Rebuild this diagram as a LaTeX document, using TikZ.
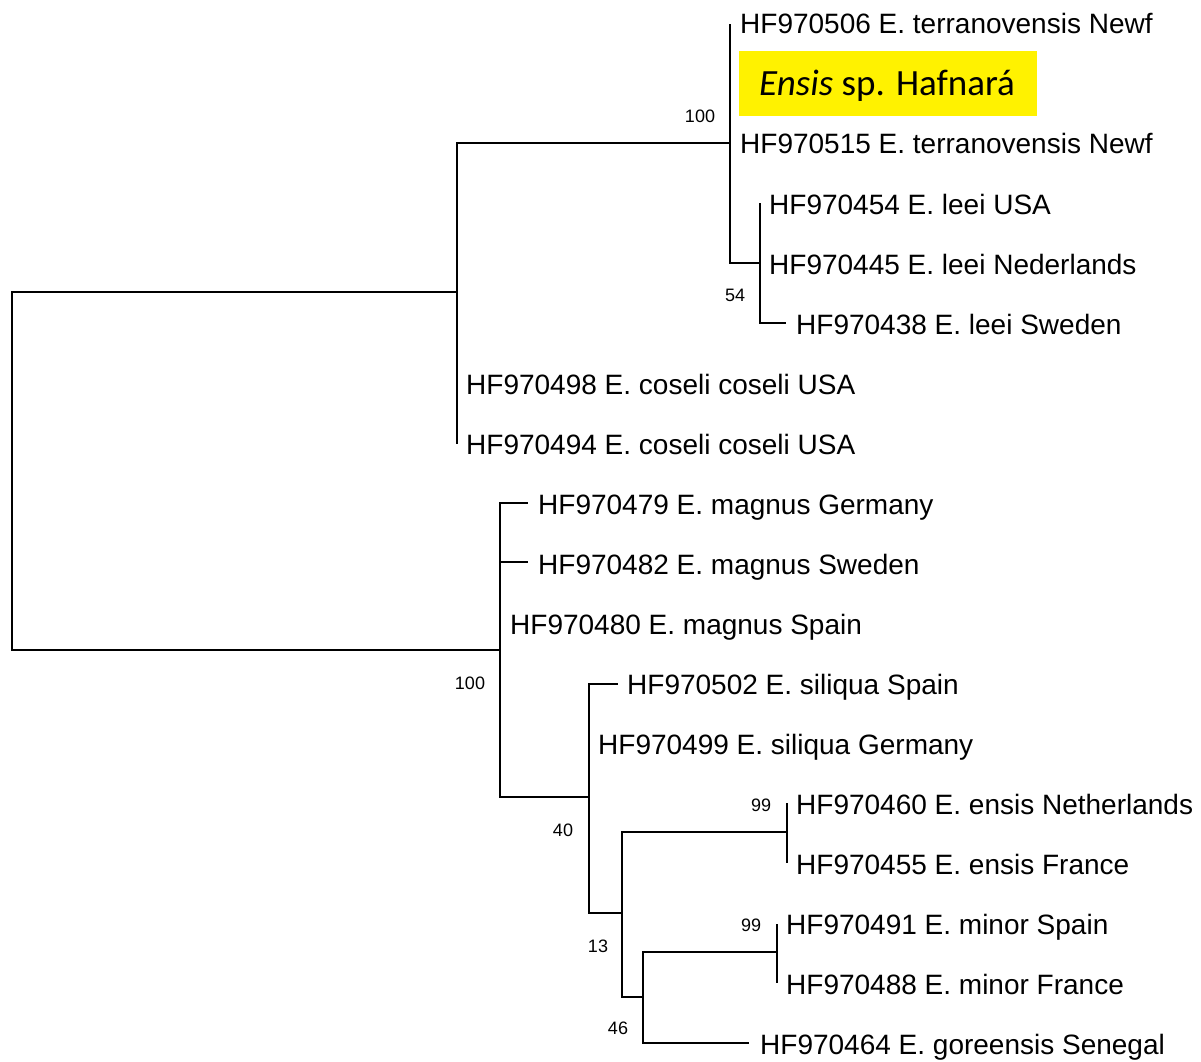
\documentclass[tikz,border=0pt]{standalone}
\usepackage{fontspec}
\setmainfont{Liberation Sans}
\newfontfamily\boxfont{Carlito}
\begin{document}
\begin{tikzpicture}[x=1pt,y=-1pt,
  branch/.style={line width=2pt, line join=miter, line cap=rect},
  taxon/.style={anchor=base west, inner sep=0pt, font=\fontsize{28}{30}\selectfont},
  boot/.style={anchor=base, inner sep=0pt, font=\fontsize{18}{20}\selectfont},
  highlight/.style={fill=yellow, draw=none, anchor=north west, inner sep=0pt, minimum width=298pt, minimum height=65pt}]
\useasboundingbox (0,0) rectangle (1201,1061);

% internal nodes (junction points)
\coordinate (R) at (12,292);
\coordinate (A) at (457,292);
\coordinate (B) at (730,143);
\coordinate (C) at (760,263);
\coordinate (D) at (500,650);
\coordinate (E) at (589,797);
\coordinate (F) at (622,913);
\coordinate (G) at (787,832);
\coordinate (H) at (643,997);
\coordinate (I) at (777,952);
% branch ends of the tips
\coordinate (t506) at (730,25);
\coordinate (t515) at (730,143);
\coordinate (t454) at (760,204);
\coordinate (t445) at (760,263);
\coordinate (t438) at (785,323);
\coordinate (t498) at (457,384);
\coordinate (t494) at (457,443);
\coordinate (t479) at (527,503);
\coordinate (t482) at (527,562);
\coordinate (t480) at (500,624);
\coordinate (t502) at (617,684);
\coordinate (t499) at (589,744);
\coordinate (t460) at (787,804);
\coordinate (t455) at (787,862);
\coordinate (t491) at (777,925);
\coordinate (t488) at (777,982);
\coordinate (t464) at (748,1043);

% branches
\draw[branch] (R) |- (A);
\draw[branch] (R) |- (D);
\draw[branch] (A) |- (B);
\draw[branch] (A) |- (t498);
\draw[branch] (A) |- (t494);
\draw[branch] (B) |- (t506);
\draw[branch] (B) |- (C);
\draw[branch] (C) |- (t454);
\draw[branch] (C) |- (t438);
\draw[branch] (D) |- (t479);
\draw[branch] (D) |- (t482);
\draw[branch] (D) |- (E);
\draw[branch] (E) |- (t502);
\draw[branch] (E) |- (F);
\draw[branch] (F) |- (G);
\draw[branch] (F) |- (H);
\draw[branch] (G) |- (t460);
\draw[branch] (G) |- (t455);
\draw[branch] (H) |- (I);
\draw[branch] (H) |- (t464);
\draw[branch] (I) |- (t491);
\draw[branch] (I) |- (t488);

% highlight box
\node[highlight] (hl) at (739,51) {};
\node[anchor=base west, inner sep=0pt, font=\boxfont\fontsize{37}{40}\selectfont] (hltext) at (759,95) {\textit{Ensis} sp. Hafnará};

% taxon labels
\node[taxon] (l506) at (740,33) {HF970506 E. terranovensis Newf};
\node[taxon] (l515) at (740,153) {HF970515 E. terranovensis Newf};
\node[taxon] (l454) at (769,214) {HF970454 E. leei USA};
\node[taxon] (l445) at (769,274) {HF970445 E. leei Nederlands};
\node[taxon] (l438) at (796,334) {HF970438 E. leei Sweden};
\node[taxon] (l498) at (466,394) {HF970498 E. coseli coseli USA};
\node[taxon] (l494) at (466,454) {HF970494 E. coseli coseli USA};
\node[taxon] (l479) at (538,514) {HF970479 E. magnus Germany};
\node[taxon] (l482) at (538,574) {HF970482 E. magnus Sweden};
\node[taxon] (l480) at (510,634) {HF970480 E. magnus Spain};
\node[taxon] (l502) at (627,694) {HF970502 E. siliqua Spain};
\node[taxon] (l499) at (598,754) {HF970499 E. siliqua Germany};
\node[taxon] (l460) at (796,814) {HF970460 E. ensis Netherlands};
\node[taxon] (l455) at (796,874) {HF970455 E. ensis France};
\node[taxon] (l491) at (786,934) {HF970491 E. minor Spain};
\node[taxon] (l488) at (786,994) {HF970488 E. minor France};
\node[taxon] (l464) at (760,1054) {HF970464 E. goreensis Senegal};

% bootstrap values
\node[boot] (bB) at (700,122.5) {100};
\node[boot] (bC) at (735,301.5) {54};
\node[boot] (bD) at (470,689.5) {100};
\node[boot] (bE) at (563,836.5) {40};
\node[boot] (bF) at (598,952.5) {13};
\node[boot] (bH) at (618,1034.5) {46};
\node[boot] (bG) at (761,811.5) {99};
\node[boot] (bI) at (751,931.5) {99};
\end{tikzpicture}
\end{document}
